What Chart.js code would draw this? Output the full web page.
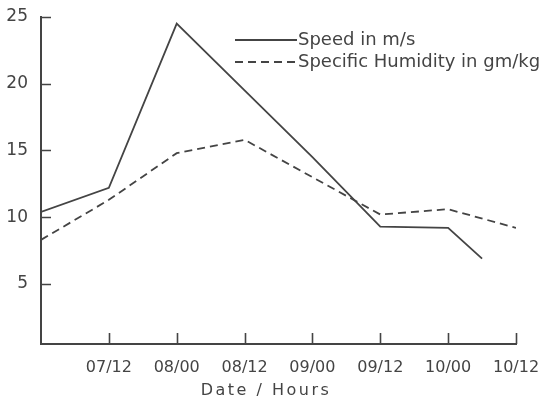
<!DOCTYPE html>
<html>
<head>
<meta charset="utf-8">
<script src="https://cdn.jsdelivr.net/npm/chart.js@4"></script>
<style>
  html, body { margin: 0; padding: 0; background: #fff; }
  #wrap { width: 550px; height: 403px; }
</style>
</head>
<body>
<div id="wrap"><canvas id="windChart"></canvas></div>
<script>
// x positions: 0 = 07/00, one step per 12 hours
const xLabels = ['', '07/12', '08/00', '08/12', '09/00', '09/12', '10/00', '10/12'];
const yTicks = [5, 10, 15, 20, 25];

const speedX = [0, 1, 2, 3, 4, 5, 6, 6.5];
const speedValues = [10.4, 12.2, 24.5, 19.5, 14.5, 9.3, 9.2, 6.9];

const humidityX = [0, 1, 2, 3, 4, 5, 6, 7];
const humidityValues = [8.3, 11.3, 14.8, 15.8, 13.0, 10.2, 10.6, 9.2];

const ink = '#444444';
const fontName = '"DejaVu Sans", sans-serif';

function toPoints(xs, ys) {
    return xs.map((x, i) => ({ x: x, y: ys[i] }));
}

// inward tick marks, legend and axis title
const extras = {
    id: 'extras',
    afterDraw(chart) {
        const ctx = chart.ctx;
        const xs = chart.scales.x;
        const ys = chart.scales.y;
        const area = chart.chartArea;
        ctx.save();
        ctx.strokeStyle = ink;
        ctx.lineWidth = 1.6;
        ctx.beginPath();
        yTicks.forEach(v => {
            const py = Math.round(ys.getPixelForValue(v)) + 0.5;
            ctx.moveTo(area.left, py);
            ctx.lineTo(area.left + 10, py);
        });
        for (let i = 1; i < xLabels.length; i++) {
            const px = Math.round(xs.getPixelForValue(i)) + 0.5;
            ctx.moveTo(px, area.bottom);
            ctx.lineTo(px, area.bottom - 11);
        }
        ctx.stroke();

        // legend
        ctx.font = '18px ' + fontName;
        ctx.fillStyle = ink;
        ctx.textBaseline = 'middle';
        chart.data.datasets.forEach((ds, i) => {
            const ly = 40 + i * 22;
            ctx.setLineDash(ds.borderDash || []);
            ctx.lineWidth = ds.borderWidth;
            ctx.beginPath();
            ctx.moveTo(235, ly);
            ctx.lineTo(297, ly);
            ctx.stroke();
            ctx.setLineDash([]);
            ctx.fillText(ds.label, 298, ly);
        });

        // axis title
        ctx.font = '16px ' + fontName;
        ctx.letterSpacing = '2.5px';
        ctx.textAlign = 'center';
        ctx.fillText('Date / Hours', 266, 391);
        ctx.restore();
    }
};

new Chart(document.getElementById('windChart'), {
    type: 'line',
    data: {
        datasets: [{
            label: 'Speed in m/s',
            data: toPoints(speedX, speedValues),
            borderColor: ink,
            borderWidth: 1.8,
            pointRadius: 0,
            tension: 0
        }, {
            label: 'Specific Humidity in gm/kg',
            data: toPoints(humidityX, humidityValues),
            borderColor: ink,
            borderWidth: 1.8,
            borderDash: [8, 5],
            pointRadius: 0,
            tension: 0
        }]
    },
    options: {
        responsive: true,
        maintainAspectRatio: false,
        animation: false,
        layout: { padding: { top: 17, right: 34, left: 0, bottom: 0 } },
        plugins: {
            legend: { display: false },
            tooltip: { enabled: false }
        },
        scales: {
            x: {
                type: 'linear',
                min: 0,
                max: 7,
                afterFit(scale) { scale.height = 59; },
                afterBuildTicks(scale) {
                    scale.ticks = xLabels.map((_, i) => ({ value: i }));
                },
                grid: { display: false },
                border: { display: true, color: ink, width: 2 },
                ticks: {
                    autoSkip: false,
                    maxRotation: 0,
                    padding: 6,
                    color: ink,
                    font: { family: fontName, size: 16 },
                    callback: (v) => xLabels[v] || ''
                }
            },
            y: {
                min: 0.5,
                max: 25,
                afterFit(scale) { scale.width = 41; },
                afterBuildTicks(scale) {
                    scale.ticks = yTicks.map(v => ({ value: v }));
                },
                grid: { display: false },
                border: { display: true, color: ink, width: 2 },
                ticks: {
                    padding: 5,
                    color: ink,
                    font: { family: fontName, size: 17 }
                }
            }
        }
    },
    plugins: [extras]
});
</script>
</body>
</html>
